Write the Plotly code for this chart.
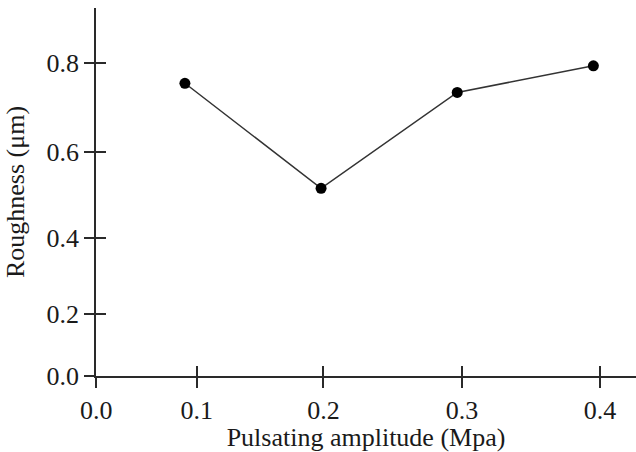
import plotly.graph_objects as go

# ---- data ----
amplitude = [0.1, 0.2, 0.3, 0.4]            # Pulsating amplitude (MPa)
roughness = [0.753, 0.513, 0.732, 0.793]     # Roughness (um)

x_tick_labels = ["0.0", "0.1", "0.2", "0.3", "0.4"]
y_tick_labels = ["0.0", "0.2", "0.4", "0.6", "0.8"]

# ---- layout: axis placement reproducing the (hand-drawn) reference axes ----
x_range = [0.0347, 0.4313]
y_range = [0.0841, 0.925]
x_tick_pos = [0.0348, 0.1087, 0.2017, 0.3035, 0.4049]
y_tick_pos = [0.0847, 0.225, 0.4, 0.5961, 0.8]

FONT = "Liberation Serif"
AX_COLOR = "#2a2a2a"

fig = go.Figure()
fig.add_trace(go.Scatter(
    x=amplitude, y=roughness, mode="lines+markers",
    line=dict(color="#333333", width=1.5),
    marker=dict(color="black", size=11),
    showlegend=False, cliponaxis=False,
))
# invisible trace so the overlay axes (inner half of the crossing ticks) render
fig.add_trace(go.Scatter(x=[], y=[], xaxis="x2", yaxis="y2", showlegend=False))

common = dict(showgrid=False, zeroline=False, tickwidth=1.5, tickcolor=AX_COLOR, ticklen=10)

fig.update_layout(
    width=636, height=452,
    margin=dict(l=96, r=0, t=8, b=74),
    paper_bgcolor="white", plot_bgcolor="white",
    font=dict(family=FONT, size=26, color="#1a1a1a"),
    xaxis=dict(
        range=x_range, tickvals=x_tick_pos, ticktext=x_tick_labels,
        ticks="outside", showline=True, linecolor=AX_COLOR, linewidth=1.5,
        title=dict(text="Pulsating amplitude (Mpa)", standoff=9, font=dict(family=FONT, size=26)),
        tickfont=dict(family=FONT, size=26),
        ticklabelstandoff=0,
        **common,
    ),
    yaxis=dict(
        range=y_range, tickvals=y_tick_pos, ticktext=y_tick_labels,
        ticks="outside", showline=True, linecolor=AX_COLOR, linewidth=1.5,
        title=dict(text="Roughness (μm)", standoff=14, font=dict(family=FONT, size=26)),
        tickfont=dict(family=FONT, size=26),
        **common,
    ),
    xaxis2=dict(
        range=x_range, tickvals=x_tick_pos, overlaying="x", anchor="y", side="bottom",
        ticks="inside", showticklabels=False, showline=False, **common,
    ),
    yaxis2=dict(
        range=y_range, tickvals=y_tick_pos, overlaying="y", anchor="x", side="left",
        ticks="inside", showticklabels=False, showline=False, **common,
    ),
)

fig.write_html("out.html")
